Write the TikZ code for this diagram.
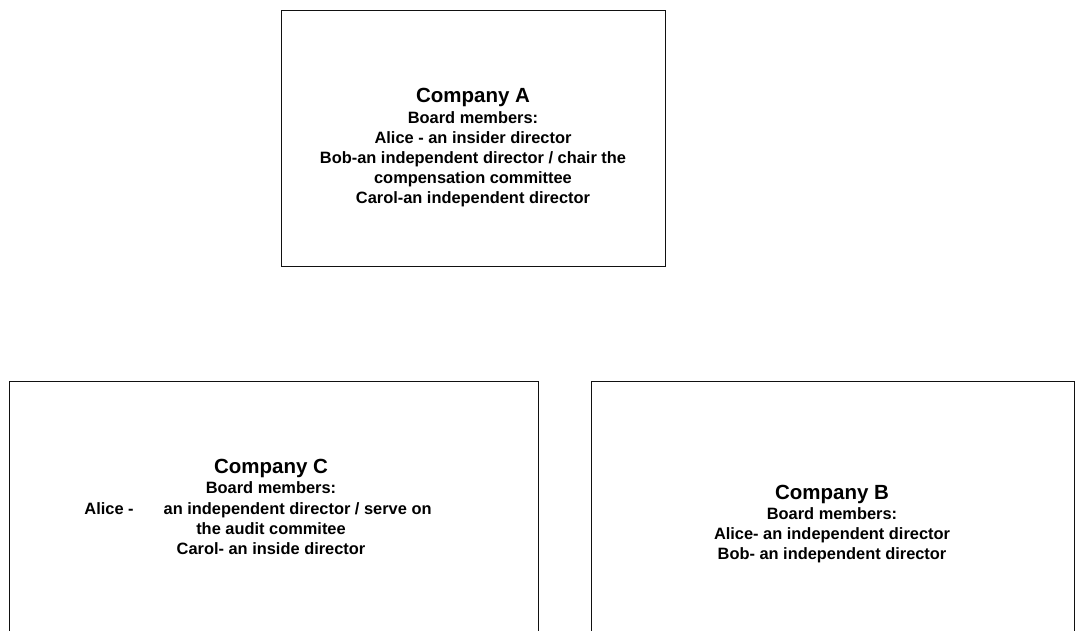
\documentclass[tikz,border=0pt]{standalone}
\usepackage{fontspec}
\setmainfont{Liberation Sans}
\definecolor{FrameLine}{HTML}{111111}

\begin{document}
\begin{tikzpicture}[
	x=1pt, y=-1pt, % one unit per pixel, y running down
	% Style for the company frames
	company box/.style={
		draw=FrameLine,
		line width=1.3pt,
		inner sep=0pt,
		anchor=north west
	},
	% Style for the text inside the frames
	board text/.style={
		align=center,
		inner sep=0pt,
		font=\bfseries\fontsize{16.4}{20.2}\selectfont
	}
	]
	
	% picture area, the lower frames run off its bottom edge
	\clip (0,0) rectangle (1076,631);
	
	% ================= FRAMES =================
	\node[company box, minimum width=384pt, minimum height=256pt] (boxA) at (281,10)  {};
	\node[company box, minimum width=529pt, minimum height=280pt] (boxC) at (9,381)   {};
	\node[company box, minimum width=483pt, minimum height=280pt] (boxB) at (591,381) {};
	
	% ================= TEXT =================
	\node[board text] (textA) at (473,148) {{\fontsize{20.5}{20}\selectfont Company A}\\
		Board members:\\
		Alice - an insider director\\
		Bob-an independent director / chair the\\
		compensation committee\\
		Carol-an independent director};
	\node[board text] (textC) at (271,507) {{\fontsize{20.5}{20}\selectfont Company C}\\
		Board members:\\
		Alice -\hspace{30pt}an independent director / serve on\hspace{26pt}\mbox{}\\
		the audit commitee\\
		Carol- an inside director};
	\node[board text] (textB) at (832,524) {{\fontsize{20.5}{20}\selectfont Company B}\\
		Board members:\\
		Alice- an independent director\\
		Bob- an independent director};
	
\end{tikzpicture}
\end{document}
